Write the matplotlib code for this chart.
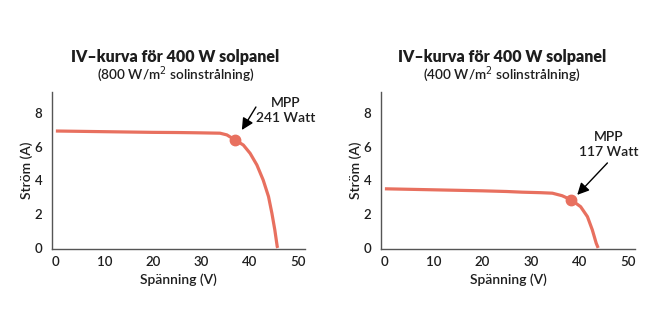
import matplotlib
matplotlib.use("Agg")
import matplotlib.pyplot as plt

plt.rcParams["font.family"] = ["Lato", "DejaVu Sans"]

# IV curve at 800 W/m2
volt_800 = [0, 5, 10, 15, 20, 25, 27.7, 30, 33.9, 35.3, 37.0, 38.7, 40.1, 41.5,
            42.8, 43.9, 44.6, 45.2, 45.7, 45.8]
amp_800 = [6.92, 6.90, 6.88, 6.86, 6.84, 6.83, 6.82, 6.81, 6.79, 6.69, 6.39,
           6.09, 5.60, 4.91, 4.02, 3.04, 2.05, 1.07, 0.08, 0.0]
mpp_800 = (37.0, 6.39)

# IV curve at 400 W/m2
volt_400 = [0, 5, 10, 15, 20, 25, 28.2, 32, 34.4, 36.4, 38.3, 40.2, 41.6,
            42.6, 43.4, 43.8]
amp_400 = [3.50, 3.47, 3.44, 3.41, 3.38, 3.34, 3.30, 3.27, 3.24, 3.09, 2.84,
           2.44, 1.85, 1.07, 0.28, 0.0]
mpp_400 = (38.3, 2.84)

titles = ["IV\u2013kurva för 400 W solpanel", "IV\u2013kurva för 400 W solpanel"]
subtitles = ["(800 W/m$^2$ solinstrålning)", "(400 W/m$^2$ solinstrålning)"]
mpp_labels = ["MPP\n241 Watt", "MPP\n117 Watt"]
x_ticks = [0, 10, 20, 30, 40, 50]
y_ticks = [0, 2, 4, 6, 8]

LINE = "#E8705F"
TEXT = "#1e1e1e"

fig = plt.figure(figsize=(6.55, 3.25), dpi=100)
fig.patch.set_facecolor("white")

axes = [fig.add_axes([0.0794, 0.234, 0.386, 0.483]),
        fig.add_axes([0.5817, 0.234, 0.388, 0.483])]

curves = [(volt_800, amp_800, mpp_800), (volt_400, amp_400, mpp_400)]
# (text pos, arrow tail, arrow head) in data units
annots = [((47.4, 8.15), (41.3, 8.34), (38.4, 6.98)),
          ((46.0, 6.15), (45.7, 5.03), (39.5, 3.14))]
title_x = [0.268, 0.766]

for i, ax in enumerate(axes):
    v, a, mpp = curves[i]
    ax.plot(v, a, color=LINE, lw=2.3, solid_capstyle="butt", zorder=3)
    ax.plot(*mpp, "o", color=LINE, ms=7.5, zorder=4)
    ax.set_xlim(-0.8, 51.4)
    ax.set_ylim(-0.06, 9.23)
    ax.set_xticks(x_ticks)
    ax.set_yticks(y_ticks)
    ax.tick_params(length=0, labelsize=9.5, colors=TEXT)
    ax.tick_params(axis="x", pad=5)
    ax.tick_params(axis="y", pad=7)
    for lab in ax.get_xticklabels() + ax.get_yticklabels():
        lab.set_fontweight("semibold")
    for s in ("top", "right"):
        ax.spines[s].set_visible(False)
    for s in ("left", "bottom"):
        ax.spines[s].set_color("#555555")
        ax.spines[s].set_linewidth(1.0)
    ax.set_xlabel("Spänning (V)", fontsize=10, color=TEXT, labelpad=4,
                  fontweight="semibold")
    ax.set_ylabel("Ström (A)", fontsize=10, color=TEXT, labelpad=1,
                  fontweight="semibold")

    tpos, tail, head = annots[i]
    ax.text(*tpos, mpp_labels[i], ha="center", va="center", fontsize=10,
            color=TEXT, linespacing=1.3, fontweight="semibold")
    ax.annotate("", xy=head, xytext=tail,
                arrowprops=dict(arrowstyle="-|>,head_length=0.7,head_width=0.35",
                                color="black", lw=1.0, shrinkA=0, shrinkB=0))

    fig.text(title_x[i], 0.825, titles[i], ha="center", va="center",
             fontsize=11.5, fontweight="heavy", color=TEXT)
    fig.text(title_x[i], 0.772, subtitles[i], ha="center", va="center",
             fontsize=9.8, color=TEXT, fontweight="semibold")

fig.savefig("out.png", dpi=100, facecolor="white")
